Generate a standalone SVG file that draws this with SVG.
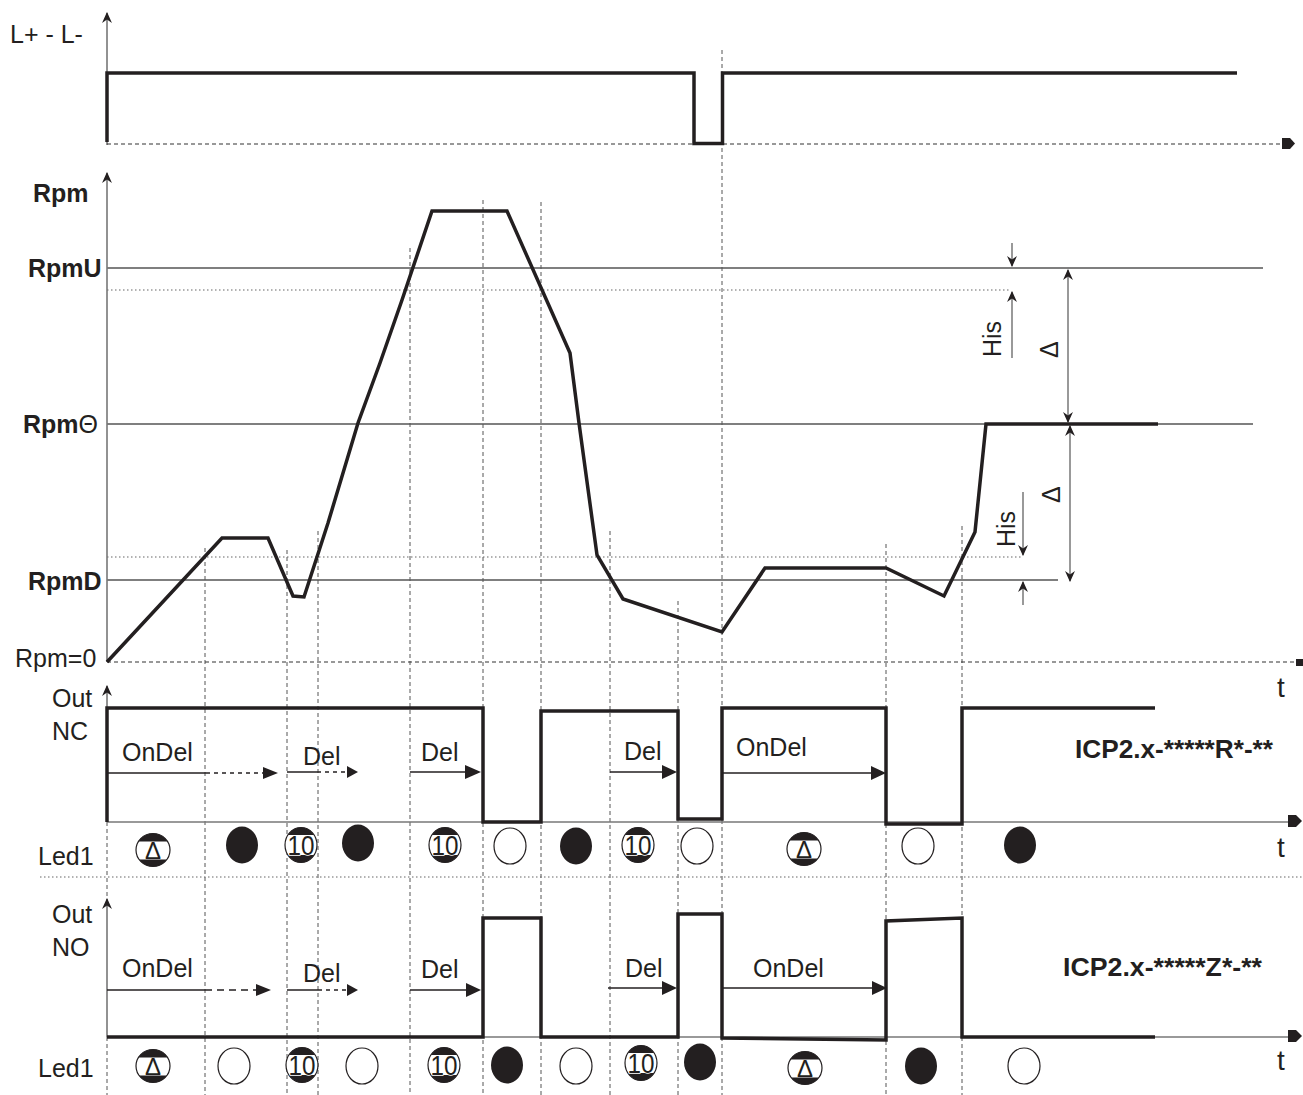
<svg xmlns="http://www.w3.org/2000/svg" width="1303" height="1095" viewBox="0 0 1303 1095">
<style>
text{font-family:"Liberation Sans",Arial,sans-serif;fill:#231f20}
.lbl{font-size:25px}
.b{font-weight:bold}
.t{font-size:28px}
.sig{fill:none;stroke:#231f20;stroke-width:3.5;stroke-linejoin:miter}
.ref{stroke:#555;stroke-width:1.5;fill:none}
.dot{stroke:#666;stroke-width:1.2;stroke-dasharray:1.5 2.5;fill:none}
.vd{stroke:#555;stroke-width:1;stroke-dasharray:4 3;fill:none}
.bd{stroke:#333;stroke-width:1.2;stroke-dasharray:4 3;fill:none}
.axis{stroke:#777;stroke-width:1.6;fill:none}
.ar{stroke:#231f20;stroke-width:1.5;fill:none}
.ard{stroke:#231f20;stroke-width:1.5;stroke-dasharray:4 4;fill:none}
.ardd{stroke:#231f20;stroke-width:1.5;stroke-dasharray:7 5;fill:none}
.hd{fill:#231f20}
.dim{stroke:#555;stroke-width:1.2;fill:none}
</style>
<defs>
<marker id="ah" viewBox="0 0 10 10" refX="9" refY="5" markerWidth="11" markerHeight="11" orient="auto-start-reverse" markerUnits="userSpaceOnUse"><path d="M0,0.5 L10,5 L0,9.5 L3,5 z" fill="#231f20"/></marker>
<clipPath id="c10"><ellipse cx="0" cy="0" rx="16" ry="17.5"/></clipPath>
<clipPath id="cd"><ellipse cx="0" cy="0" rx="17" ry="16.5"/></clipPath>
<g id="ledOn"><ellipse rx="16" ry="18.5" fill="#231f20"/></g>
<g id="ledOff"><ellipse rx="16" ry="18" fill="#fff" stroke="#231f20" stroke-width="1.2"/></g>
<g id="led10"><ellipse rx="16" ry="17.5" fill="#fff"/><g clip-path="url(#c10)"><rect x="-20" y="-20" width="40" height="10" fill="#231f20"/><rect x="-20" y="10" width="40" height="10" fill="#231f20"/></g><ellipse rx="16" ry="17.5" fill="none" stroke="#231f20" stroke-width="1.2"/><text x="0" y="10" font-size="28" text-anchor="middle" textLength="27" lengthAdjust="spacingAndGlyphs" stroke="#fff" stroke-width="1.5" paint-order="stroke">10</text></g>
<g id="ledD"><ellipse rx="17" ry="16.5" fill="#fff"/><g clip-path="url(#cd)"><rect x="-20" y="-20" width="40" height="11.5" fill="#231f20"/><rect x="-20" y="9.5" width="40" height="11.5" fill="#231f20"/></g><ellipse rx="17" ry="16.5" fill="none" stroke="#231f20" stroke-width="1.2"/><text x="0" y="9" font-size="24" text-anchor="middle">Δ</text></g>
</defs>
<rect width="1303" height="1095" fill="#fff"/>

<g id="grid">
<path class="vd" d="M205,548V1095M287,550V1095M318,531V1095M410,248V1095M483,200V1095M541,202V1095M610,531V1095M678,601V1095M722,50V1095M886,544V1095M962,526V1095"/>
<path class="vd" d="M107,822V898M107,1037V1095"/>
<path class="dot" d="M107,290H1010M107,557H1022"/>
<path class="dot" d="M40,877H1303"/>
<path class="ref" d="M107,268H1263M107,424H1253M107,580H1058"/>
</g>

<g id="axes">
<path class="axis" d="M107,145V13" marker-end="url(#ah)"/>
<path class="axis" d="M107,662V173" marker-end="url(#ah)"/>
<path class="axis" d="M107,822V686" marker-end="url(#ah)"/>
<path class="axis" d="M107,1037V899" marker-end="url(#ah)"/>
<path class="bd" d="M107,144H1283"/>
<polygon class="hd" points="1282,138 1290,138 1295,143.5 1290,149 1282,149"/>
<path class="bd" d="M107,662H1296"/>
<rect x="1296" y="659" width="7" height="7" fill="#231f20"/>
<path class="axis" d="M107,822H1290"/>
<polygon class="hd" points="1288,815 1296,815 1302,821 1296,827 1288,827"/>
<path class="axis" d="M107,1037H1290"/>
<polygon class="hd" points="1288,1030 1296,1030 1302,1036 1296,1042 1288,1042"/>
</g>

<g id="labels">
<text class="lbl" x="10" y="43" font-size="26">L+ - L-</text>
<text class="lbl b" x="33" y="202">Rpm</text>
<text class="lbl b" x="28" y="277">RpmU</text>
<text class="lbl b" x="23" y="433">Rpm<tspan font-weight="normal">Θ</tspan></text>
<text class="lbl b" x="28" y="590">RpmD</text>
<text class="lbl" x="15" y="667" font-size="26">Rpm=0</text>
<text class="lbl" x="52" y="707">Out</text>
<text class="lbl" x="52" y="740">NC</text>
<text class="lbl" x="38" y="865">Led1</text>
<text class="lbl" x="52" y="923">Out</text>
<text class="lbl" x="52" y="956">NO</text>
<text class="lbl" x="38" y="1077">Led1</text>
<text class="t" x="1277" y="697">t</text>
<text class="t" x="1277" y="857">t</text>
<text class="t" x="1277" y="1070">t</text>
<text class="lbl b" x="1075" y="758" textLength="198" lengthAdjust="spacingAndGlyphs">ICP2.x-*****R*-**</text>
<text class="lbl b" x="1063" y="976" textLength="199" lengthAdjust="spacingAndGlyphs">ICP2.x-*****Z*-**</text>
</g>

<g id="signals">
<path class="sig" d="M107,142V73H694V143.5H722.5V73H1237"/>
<path class="sig" d="M107,662L222,538H268L293,596L304,597L328,523L358,423L380,363L402,300L432,211H507L570,353L579,423L597,555L623,599L722,632L765,568H886L944,596L975,532L986,424H1158"/>
<path class="sig" d="M107,822V708H483V822H541V711H678V819H722V708H886V824H962V708H1155"/>
<path class="sig" d="M107,1037H483V918H541V1037H678V914H722V1038L886,1040V921L962,918V1037H1155"/>
</g>

<g id="hysteresis">
<path class="dim" d="M1012,243V266" marker-end="url(#ah)"/>
<path class="dim" d="M1012,358V292" marker-end="url(#ah)"/>
<path class="dim" d="M1068,270V422" marker-start="url(#ah)" marker-end="url(#ah)"/>
<path class="dim" d="M1070,426V581" marker-start="url(#ah)" marker-end="url(#ah)"/>
<path class="dim" d="M1023,492V555" marker-end="url(#ah)"/>
<path class="dim" d="M1023,605V582" marker-end="url(#ah)"/>
<text class="lbl" transform="translate(1001,357) rotate(-90)" font-size="26">His</text>
<text class="lbl" transform="translate(1015,547) rotate(-90)" font-size="26">His</text>
<text class="lbl" transform="translate(1058,358) rotate(-90)" font-size="24">Δ</text>
<text class="lbl" transform="translate(1060,503) rotate(-90)" font-size="24">Δ</text>
</g>

<g id="delays-nc">
<text class="lbl" x="122" y="761">OnDel</text>
<path class="ar" d="M107,773H206"/><path class="ard" d="M206,773H263"/><polygon class="hd" points="263,767 278,773 263,779"/>
<text class="lbl" x="303" y="765">Del</text>
<path class="ar" d="M287,772H317"/><path class="ard" d="M317,772H347"/><polygon class="hd" points="347,766 358,772 347,778"/>
<text class="lbl" x="421" y="761">Del</text>
<path class="ar" d="M410,772H466"/><polygon class="hd" points="465,765 481,772 465,779"/>
<text class="lbl" x="624" y="760">Del</text>
<path class="ar" d="M610,772H663"/><polygon class="hd" points="662,765 677,772 662,779"/>
<text class="lbl" x="736" y="756">OnDel</text>
<path class="ar" d="M722,773H872"/><polygon class="hd" points="871,766 886,773 871,780"/>
</g>

<g id="delays-no">
<text class="lbl" x="122" y="977">OnDel</text>
<path class="ar" d="M107,990H205"/><path class="ardd" d="M205,990H256"/><polygon class="hd" points="256,984 271,990 256,996"/>
<text class="lbl" x="303" y="982">Del</text>
<path class="ar" d="M287,990H318"/><path class="ard" d="M318,990H347"/><polygon class="hd" points="347,984 358,990 347,996"/>
<text class="lbl" x="421" y="978">Del</text>
<path class="ar" d="M410,990H467"/><polygon class="hd" points="466,983 481,990 466,997"/>
<text class="lbl" x="625" y="977">Del</text>
<path class="ar" d="M608,988H663"/><polygon class="hd" points="662,981 677,988 662,995"/>
<text class="lbl" x="753" y="977">OnDel</text>
<path class="ar" d="M722,988H873"/><polygon class="hd" points="872,981 887,988 872,995"/>
</g>

<g id="leds-nc">
<use href="#ledD" x="153" y="850"/>
<use href="#ledOn" x="242" y="845"/>
<use href="#led10" x="301" y="845"/>
<use href="#ledOn" x="358" y="843"/>
<use href="#led10" x="445" y="845"/>
<use href="#ledOff" x="510" y="846"/>
<use href="#ledOn" x="576" y="846"/>
<use href="#led10" x="638" y="845"/>
<use href="#ledOff" x="697" y="846"/>
<use href="#ledD" x="804" y="849"/>
<use href="#ledOff" x="918" y="846"/>
<use href="#ledOn" x="1020" y="845"/>
</g>

<g id="leds-no">
<use href="#ledD" x="153" y="1066"/>
<use href="#ledOff" x="234" y="1066"/>
<use href="#led10" x="302" y="1065"/>
<use href="#ledOff" x="362" y="1066"/>
<use href="#led10" x="444" y="1065"/>
<use href="#ledOn" x="507" y="1065"/>
<use href="#ledOff" x="576" y="1066"/>
<use href="#led10" x="641" y="1063"/>
<use href="#ledOn" x="700" y="1062"/>
<use href="#ledD" x="805" y="1068"/>
<use href="#ledOn" x="921" y="1066"/>
<use href="#ledOff" x="1024" y="1066"/>
</g>
</svg>
